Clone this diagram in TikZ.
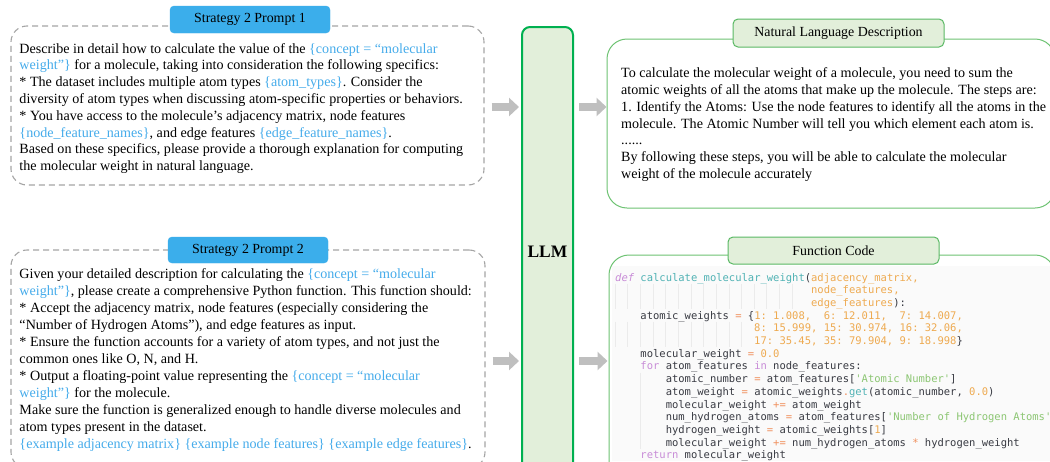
\documentclass[tikz,border=0pt]{standalone}
\usepackage{fontspec}
\setmainfont{Liberation Serif}
\setmonofont{DejaVu Sans Mono}
\usetikzlibrary{arrows.meta}
\definecolor{cblue}{RGB}{70,172,235}
\definecolor{chdr}{RGB}{59,174,235}
\definecolor{cdash}{RGB}{165,165,165}
\definecolor{carrow}{RGB}{191,191,191}
\definecolor{cllm}{RGB}{0,176,80}
\definecolor{cgfill}{RGB}{226,239,218}
\definecolor{cnl}{RGB}{110,195,115}
\definecolor{chdrg}{RGB}{90,185,100}
\definecolor{ccode}{RGB}{56,58,66}
\definecolor{ckw}{RGB}{200,140,215}
\definecolor{cfn}{RGB}{80,178,180}
\definecolor{cnum}{RGB}{238,170,80}
\definecolor{cop}{RGB}{240,145,95}
\definecolor{cstr}{RGB}{140,198,115}
\definecolor{cguide}{RGB}{235,235,235}
\definecolor{cbg}{RGB}{250,250,250}
\newcommand{\bl}[1]{\textcolor{cblue}{#1}}
\newcommand{\kw}[1]{\textcolor{ckw}{#1}}
\newcommand{\kwi}[1]{\textcolor{ckw}{\itshape #1}}
\newcommand{\fn}[1]{\textcolor{cfn}{#1}}
\newcommand{\pa}[1]{\textcolor{cnum}{#1}}
\newcommand{\nm}[1]{\textcolor{cnum}{#1}}
\newcommand{\op}[1]{\textcolor{cop}{#1}}
\newcommand{\st}[1]{\textcolor{cstr}{#1}}
\newcommand{\mydots}{......}
\begin{document}
\begin{tikzpicture}[x=1pt,y=-1pt,
  dashbox/.style={draw=cdash, dash pattern=on 6pt off 4pt, line width=1.1pt, rounded corners=16pt, inner sep=0pt},
  hdrblue/.style={fill=chdr, draw=chdr, rounded corners=4pt, minimum width=160pt, inner sep=0pt, font=\fontsize{13.9}{16}\selectfont},
  hdrgreen/.style={fill=cgfill, draw=chdrg, line width=1pt, rounded corners=5pt, minimum width=211pt, inner sep=0pt, font=\fontsize{13.9}{16}\selectfont},
  greenbox/.style={draw=cnl, line width=1pt, rounded corners=20pt, inner sep=0pt},
  llmbox/.style={draw=cllm, fill=cgfill, line width=2pt, rounded corners=8pt, inner sep=0pt},
  txt/.style={anchor=base west, inner sep=0pt, font=\fontsize{14.1}{16}\selectfont},
  codeln/.style={anchor=base west, inner sep=0pt, font=\ttfamily\fontsize{10.5}{12}\selectfont, text=ccode},
  garrow/.style={draw=carrow, line width=8pt, -{Triangle[length=10pt,width=18pt]}},
  guide/.style={draw=cguide, line width=0.5pt}
]
\useasboundingbox (0,0) rectangle (1050,461);
\fill[white] (0,0) rectangle (1050,461);

% left boxes
\node[dashbox, minimum width=473pt, minimum height=159pt] (p1) at (247.5,105.5) {};
\node[dashbox, minimum width=474pt, minimum height=218pt] (p2) at (248,359) {};
\node[hdrblue, minimum height=27pt] (h1) at (250,19.5) {Strategy 2 Prompt 1};
\node[hdrblue, minimum height=26pt] (h2) at (248,250) {Strategy 2 Prompt 2};

\foreach \t [count=\i] in {
  {Describe in detail how to calculate the value of the \bl{\{concept = “molecular}},
  {\bl{weight”\}} for a molecule, taking into consideration the following specifics:},
  {* The dataset includes multiple atom types \bl{\{atom\_types\}}. Consider the},
  {diversity of atom types when discussing atom-specific properties or behaviors.},
  {* You have access to the molecule’s adjacency matrix, node features},
  {\bl{\{node\_feature\_names\}}, and edge features \bl{\{edge\_feature\_names\}}.},
  {Based on these specifics, please provide a thorough explanation for computing},
  {the molecular weight in natural language.}}
  {\node[txt] (ta\i) at (19.3,{53+16.8*(\i-1)}) {\t};}

\foreach \t [count=\i] in {
  {Given your detailed description for calculating the \bl{\{concept = “molecular}},
  {\bl{weight”\}}, please create a comprehensive Python function. This function should:},
  {* Accept the adjacency matrix, node features (especially considering the},
  {“Number of Hydrogen Atoms”), and edge features as input.},
  {* Ensure the function accounts for a variety of atom types, and not just the},
  {common ones like O, N, and H.},
  {* Output a floating-point value representing the \bl{\{concept = “molecular}},
  {\bl{weight”\}} for the molecule.},
  {Make sure the function is generalized enough to handle diverse molecules and},
  {atom types present in the dataset.},
  {\bl{\{example adjacency matrix\} \{example node features\} \{example edge features\}}.}}
  {\node[txt] (tb\i) at (19.3,{278+17*(\i-1)}) {\t};}

% LLM
\node[llmbox, minimum width=51pt, minimum height=448pt] (llm) at (547.5,251) {};
\node[font=\bfseries\fontsize{17.5}{20}\selectfont, inner sep=0pt] (llmt) at (547.5,252) {LLM};

% right boxes
\node[greenbox, minimum width=448pt, minimum height=169pt] (nl) at (831,123.5) {};
\node[greenbox, minimum width=446pt, minimum height=225pt] (cb) at (832,367.5) {};
\fill[cbg] (612,266) rectangle (1050,461);
\node[hdrgreen, minimum height=28pt] (h3) at (838.5,33) {Natural Language Description};
\node[hdrgreen, minimum height=27pt] (h4) at (833.5,250.5) {Function Code};

\foreach \t [count=\i] in {
  {To calculate the molecular weight of a molecule, you need to sum the},
  {atomic weights of all the atoms that make up the molecule. The steps are:},
  {1. Identify the Atoms: Use the node features to identify all the atoms in the},
  {molecule. The Atomic Number will tell you which element each atom is.},
  {\mydots},
  {By following these steps, you will be able to calculate the molecular},
  {weight of the molecule accurately}}
  {\node[txt] (tn\i) at (621,{77.7+16.8*(\i-1)}) {\t};}

% indent guides
\foreach \k in {0,...,14} {\draw[guide] ({615+12.64*\k},283.5) -- ({615+12.64*\k},309);}
\foreach \k in {0,...,10} {\draw[guide] ({615+12.64*\k},321.5) -- ({615+12.64*\k},347);}
\draw[guide] (640.3,372.5) -- (640.3,449);

% code
\node[codeln] (c1) at (615,281) {\kwi{def} \fn{calculate\_molecular\_weight}(\pa{adjacency\_matrix,}};
\node[codeln] (c2) at ({615+6.32*31},293.7) {\pa{node\_features,}};
\node[codeln] (c3) at ({615+6.32*31},306.4) {\pa{edge\_features}):};
\node[codeln] (c4) at ({615+6.32*4},319.1) {atomic\_weights \op{=} \{\nm{1: 1.008,\ \ 6: 12.011,\ \ 7: 14.007,}};
\node[codeln] (c5) at ({615+6.32*22},331.8) {\nm{8: 15.999, 15: 30.974, 16: 32.06,}};
\node[codeln] (c6) at ({615+6.32*22},344.5) {\nm{17: 35.45, 35: 79.904, 9: 18.998}\}};
\node[codeln] (c7) at ({615+6.32*4},357.2) {molecular\_weight \op{=} \nm{0.0}};
\node[codeln] (c8) at ({615+6.32*4},369.9) {\kw{for} atom\_features \kw{in} node\_features:};
\node[codeln] (c9) at ({615+6.32*8},382.6) {atomic\_number \op{=} atom\_features[\st{'Atomic Number'}]};
\node[codeln] (c10) at ({615+6.32*8},395.3) {atom\_weight \op{=} atomic\_weights\op{.}\fn{get}(atomic\_number, \nm{0.0})};
\node[codeln] (c11) at ({615+6.32*8},408) {molecular\_weight \op{+=} atom\_weight};
\node[codeln] (c12) at ({615+6.32*8},420.7) {num\_hydrogen\_atoms \op{=} atom\_features[\st{'Number of Hydrogen Atoms'}]};
\node[codeln] (c13) at ({615+6.32*8},433.4) {hydrogen\_weight \op{=} atomic\_weights[\nm{1}]};
\node[codeln] (c14) at ({615+6.32*8},446.1) {molecular\_weight \op{+=} num\_hydrogen\_atoms \op{*} hydrogen\_weight};
\node[codeln] (c15) at ({615+6.32*4},458.8) {\kw{return} molecular\_weight};

% arrows
\path ([yshift=-1.5pt]p1.east) coordinate (s1);
\path ([yshift=-2pt]p2.east) coordinate (s2);
\path (llm.west |- s1) coordinate (l1);
\path (llm.west |- s2) coordinate (l2);
\path (llm.east |- s1) coordinate (r1);
\path (llm.east |- s2) coordinate (r2);
\path (nl.west |- s1) coordinate (n1);
\path (cb.west |- s2) coordinate (n2);
\draw[garrow] ([xshift=7pt]s1) -- ([xshift=-2pt]l1);
\draw[garrow] ([xshift=7pt]s2) -- ([xshift=-2pt]l2);
\draw[garrow] ([xshift=5pt]r1) -- ([xshift=0pt]n1);
\draw[garrow] ([xshift=5pt]r2) -- ([xshift=-1pt]n2);
\end{tikzpicture}
\end{document}
